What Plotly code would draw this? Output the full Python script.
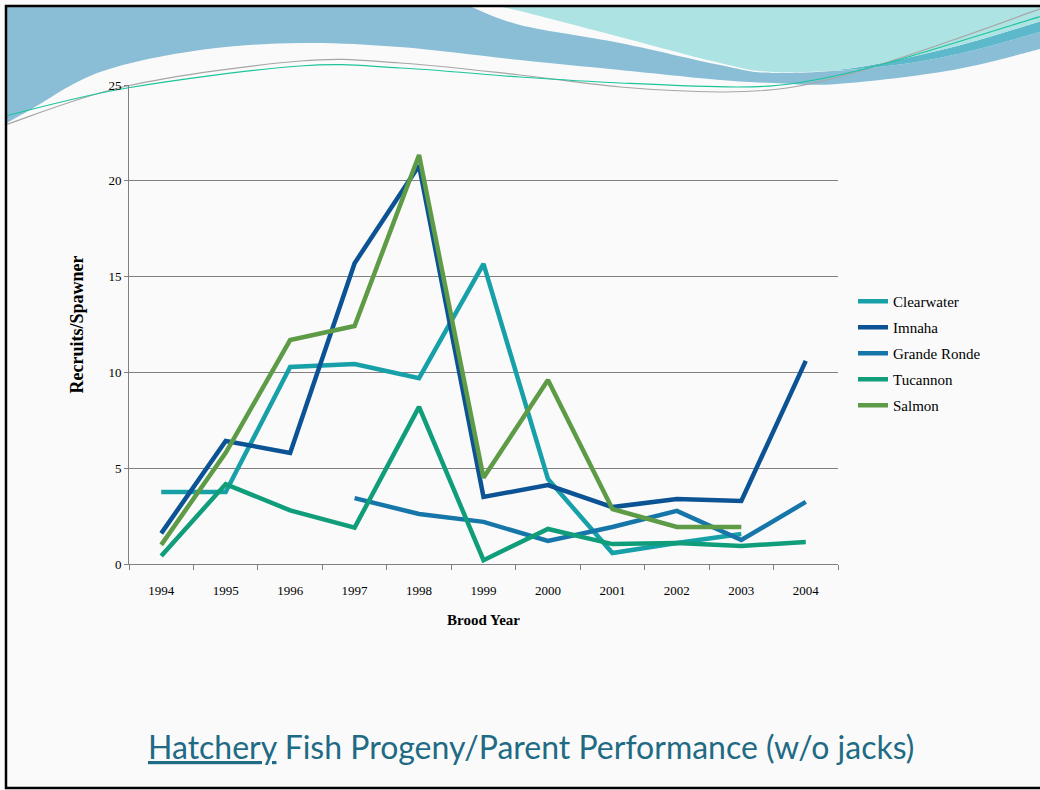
import plotly.graph_objects as go

# Brood years (category axis)
years = ["1994", "1995", "1996", "1997", "1998", "1999", "2000", "2001", "2002", "2003", "2004"]

# Recruits per spawner by stock (None = no estimate)
clearwater = [3.76, 3.76, 10.28, 10.44, 9.7, 15.66, 4.44, 0.57, 1.1, 1.57, None]
imnaha = [1.6, 6.42, 5.8, 15.7, 20.8, 3.5, 4.12, 2.97, 3.39, 3.29, 10.6]
grande_ronde = [None, None, None, 3.44, 2.61, 2.2, 1.2, 1.93, 2.77, 1.25, 3.24]
tucannon = [0.42, 4.17, 2.8, 1.9, 8.2, 0.2, 1.83, 1.04, 1.1, 0.94, 1.15]
salmon = [1.0, 5.8, 11.69, 12.42, 21.35, 4.5, 9.6, 2.87, 1.93, 1.93, None]

series_names = ["Clearwater", "Imnaha", "Grande Ronde", "Tucannon", "Salmon"]
series_values = [clearwater, imnaha, grande_ronde, tucannon, salmon]
series_colors = ["#17a0a8", "#0b5394", "#1676a9", "#109d79", "#5e9b47"]

W, H = 1040, 790
ML, MR, MT, MB = 129, 202, 85, 226
PW, PH = W - ML - MR, H - MT - MB
BG = "#fafafa"


def to_paper(px, py):
    return (px - ML) / PW, (H - MB - py) / PH


def smooth_path(points, close=False, extra=None):
    """Catmull-Rom curve through pixel points, returned as an SVG path in paper units."""
    pts = [to_paper(x, y) for x, y in points]
    d = "M %.5f,%.5f" % pts[0]
    n = len(pts)
    for i in range(n - 1):
        p0 = pts[i - 1] if i > 0 else pts[i]
        p1, p2 = pts[i], pts[i + 1]
        p3 = pts[i + 2] if i + 2 < n else pts[i + 1]
        c1 = (p1[0] + (p2[0] - p0[0]) / 6, p1[1] + (p2[1] - p0[1]) / 6)
        c2 = (p2[0] - (p3[0] - p1[0]) / 6, p2[1] - (p3[1] - p1[1]) / 6)
        d += " C %.5f,%.5f %.5f,%.5f %.5f,%.5f" % (c1 + c2 + p2)
    if extra:
        for x, y in extra:
            d += " L %.5f,%.5f" % to_paper(x, y)
    if close:
        d += " Z"
    return d


fig = go.Figure()
for i, (name, vals, col) in enumerate(zip(series_names, series_values, series_colors)):
    fig.add_trace(go.Scatter(
        x=years, y=vals, name=name, mode="lines",
        line=dict(color=col, width=4.5),
        connectgaps=False, legendgroup=name,
    ))

# Slide banner: layered swooshes across the top edge
shapes = []
blue_edge = [(7, 123), (30, 110), (100, 72), (200, 50), (300, 43), (400, 47), (520, 60),
             (620, 70), (720, 80), (773, 83), (837, 84), (953, 70), (1040, 49)]
shapes.append(dict(type="path", xref="paper", yref="paper", layer="below",
                   path=smooth_path(blue_edge, close=True, extra=[(1045, 49), (1045, 5), (7, 5)]),
                   fillcolor="#89bed6", line=dict(width=0)))
white_edge = [(1040, 32), (953, 55), (870, 68), (773, 73), (720, 65), (620, 43), (520, 25), (467, 5)]
shapes.append(dict(type="path", xref="paper", yref="paper", layer="below",
                   path=smooth_path(white_edge, close=True, extra=[(1045, 5), (1045, 32)]),
                   fillcolor=BG, line=dict(width=0)))
teal_low = [(773, 73), (870, 68), (953, 55), (1040, 32)]
teal_up = [(1045, 20), (953, 47), (853, 68), (773, 73)]
shapes.append(dict(type="path", xref="paper", yref="paper", layer="below",
                   path=smooth_path(teal_low) + smooth_path(teal_up).replace("M", "L", 1) + " Z",
                   fillcolor="#5db8cb", line=dict(width=0)))
cyan_edge = [(490, 5), (520, 11), (620, 37), (720, 63), (773, 72), (853, 68), (953, 47), (1045, 20)]
shapes.append(dict(type="path", xref="paper", yref="paper", layer="below",
                   path=smooth_path(cyan_edge, close=True, extra=[(1045, 5)]),
                   fillcolor="#aee3e3", line=dict(width=0)))
grey_line = [(5, 125), (127, 86), (300, 61), (400, 63), (520, 75), (620, 87), (720, 92),
             (787, 88), (853, 73), (953, 40), (1045, 7)]
shapes.append(dict(type="path", xref="paper", yref="paper", layer="below",
                   path=smooth_path(grey_line), line=dict(color="#a6a6a6", width=1.2)))
green_line = [(5, 116), (127, 88), (300, 66), (400, 68), (520, 77), (620, 83), (737, 87),
              (803, 82), (887, 63), (1045, 15)]
shapes.append(dict(type="path", xref="paper", yref="paper", layer="below",
                   path=smooth_path(green_line), line=dict(color="#1cc49b", width=1.2)))
# Slide frame
x0, y0 = to_paper(6, 6)
x1, y1 = to_paper(1046, 788)
shapes.append(dict(type="rect", xref="paper", yref="paper", x0=x0, y0=y0, x1=x1, y1=y1,
                   line=dict(color="#000000", width=2.5), layer="above"))

lx, ly = to_paper(853, 285)
tx, ty = to_paper(531, 746)

fig.update_layout(
    width=W, height=H,
    margin=dict(l=ML, r=MR, t=MT, b=MB),
    paper_bgcolor=BG, plot_bgcolor="rgba(0,0,0,0)",
    font=dict(family="Liberation Serif", color="#000000"),
    showlegend=True,
    legend=dict(x=lx, y=ly, xanchor="left", yanchor="top", bgcolor="rgba(0,0,0,0)",
                font=dict(family="Liberation Serif", size=15, color="#000000"),
                tracegroupgap=3.5, itemwidth=30),
    shapes=shapes,
    annotations=[dict(
        text="<u>Hatchery</u> Fish Progeny/Parent Performance (w/o jacks)",
        xref="paper", yref="paper", x=tx, y=ty, xanchor="center", yanchor="middle",
        showarrow=False, font=dict(family="Lato", size=32, color="#1f6a84"),
    )],
)

fig.update_xaxes(
    type="category", categoryorder="array", categoryarray=years, range=[-0.5, 10.5],
    tickson="boundaries", ticks="outside", ticklen=5, tickcolor="#808080",
    showline=True, linecolor="#808080", linewidth=1, showgrid=False, zeroline=False,
    tickfont=dict(family="Liberation Serif", size=13, color="#000000"), ticklabelstandoff=14,
    title=dict(text="<b>Brood Year</b>", font=dict(family="Liberation Serif", size=15), standoff=17),
    fixedrange=True,
)
fig.update_yaxes(
    range=[0, 25], tickvals=[0, 5, 10, 15, 20, 25], ticks="outside", ticklen=4, tickcolor="#808080",
    showline=True, linecolor="#808080", linewidth=1,
    showgrid=True, gridcolor="#808080", gridwidth=1, zeroline=False,
    tickfont=dict(family="Liberation Serif", size=13, color="#000000"),
    title=dict(text="<b>Recruits/Spawner</b>", font=dict(family="Liberation Serif", size=18), standoff=20),
    fixedrange=True,
)

fig.write_html("out.html")
